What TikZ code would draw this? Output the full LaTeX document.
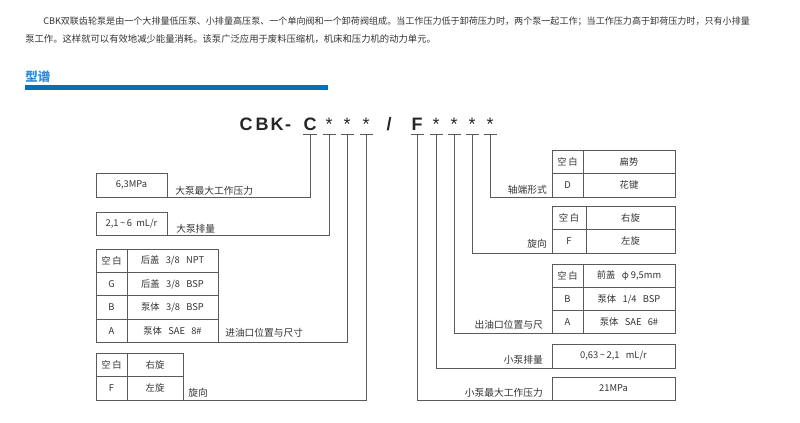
\documentclass[tikz,border=0pt]{standalone}
\usepackage{fontspec}
\newfontfamily\cjk{Noto Sans CJK SC}
\newfontfamily\codefont{Liberation Sans}
\usetikzlibrary{calc}
\usetikzlibrary{positioning}

\definecolor{wirecol}{HTML}{5A5A5A}
\definecolor{txtcol}{HTML}{333333}
\definecolor{headblue}{HTML}{2E8FE0}
\definecolor{barblue}{HTML}{0070BA}

\tikzset{
    wire/.style={draw=wirecol, line width=0.7pt},
    tblcell/.style={rectangle, draw=wirecol, line width=0.7pt, inner sep=0pt, outer sep=0pt, minimum height=23.4*0.75pt, text centered, text=txtcol, font=\cjk\fontsize{7pt}{8pt}\selectfont},
    keycell/.style={tblcell, minimum width=31*0.75pt},
    valcell/.style={tblcell, minimum width=92*0.75pt},
    tagtext/.style={inner sep=0pt, text=txtcol, font=\cjk\fontsize{7.3pt}{8pt}\selectfont},
    codechar/.style={inner sep=0pt, anchor=base, text=black!85, font=\codefont\bfseries\fontsize{13.5pt}{14pt}\selectfont},
    starchar/.style={codechar, font=\codefont\mdseries\fontsize{13.5pt}{14pt}\selectfont},
}

\begin{document}
\begin{tikzpicture}[x=0.75pt, y=-0.75pt]
    \useasboundingbox (0,0) rectangle (800,422);

    % intro text and title
    \node[anchor=base west, inner sep=0pt, text=txtcol, font=\cjk\fontsize{6.8pt}{8pt}\selectfont] (intro1) at (43,24.5) {CBK双联齿轮泵是由一个大排量低压泵、小排量高压泵、一个单向阀和一个卸荷阀组成。当工作压力低于卸荷压力时，两个泵一起工作；当工作压力高于卸荷压力时，只有小排量};
    \node[anchor=base west, inner sep=0pt, text=txtcol, font=\cjk\fontsize{7pt}{8pt}\selectfont] (intro2) at (25,42.5) {泵工作。这样就可以有效地减少能量消耗。该泵广泛应用于废料压缩机，机床和压力机的动力单元。};
    \node[anchor=base west, inner sep=0pt, text=headblue, font=\cjk\bfseries\fontsize{9.4pt}{10pt}\selectfont] (title) at (25,81) {型谱};
    \fill[barblue] (25,85) rectangle (328,90);

    % model code
    \node[codechar] (cb1) at (246,130) {C};
    \node[codechar] (cb2) at (262,130) {B};
    \node[codechar] (cb3) at (277,130) {K};
    \node[codechar] (cb4) at (288,130) {-};
    \node[codechar] (c1) at (310,130) {C};
    \node[starchar] (c2) at (329,130) {*};
    \node[starchar] (c3) at (347,130) {*};
    \node[starchar] (c4) at (366,130) {*};
    \node[codechar] (slash) at (389,130) {/};
    \node[codechar] (f1) at (417,130) {F};
    \node[starchar] (f2) at (436,130) {*};
    \node[starchar] (f3) at (454,130) {*};
    \node[starchar] (f4) at (472,130) {*};
    \node[starchar] (f5) at (490,130) {*};

    % left side: large pump
    \node[tblcell, minimum width=71*0.75pt, minimum height=24*0.75pt, anchor=north west] (maxp) at (96,173) {6,3MPa};
    \node[tblcell, minimum width=71*0.75pt, minimum height=23*0.75pt, anchor=north west] (disp) at (96,212) {2,1\,\textasciitilde\,6\ \ mL/r};

    \node[keycell, anchor=north west] (in0k) at (96,249) {空\,白};
    \node[valcell, minimum width=91*0.75pt, right=0pt of in0k] (in0v) {后盖\ \ \ 3/8\ \ \ NPT};
    \node[keycell, below=0pt of in0k] (in1k) {G};
    \node[valcell, minimum width=91*0.75pt, below=0pt of in0v] (in1v) {后盖\ \ \ 3/8\ \ \ BSP};
    \node[keycell, below=0pt of in1k] (in2k) {B};
    \node[valcell, minimum width=91*0.75pt, below=0pt of in1v] (in2v) {泵体\ \ \ 3/8\ \ \ BSP};
    \node[keycell, below=0pt of in2k] (in3k) {A};
    \node[valcell, minimum width=91*0.75pt, below=0pt of in2v] (in3v) {泵体\ \ \ SAE\ \ \ 8\#};

    \node[keycell, minimum height=23.5*0.75pt, anchor=north west] (rl0k) at (96,353) {空\,白};
    \node[valcell, minimum height=23.5*0.75pt, minimum width=56*0.75pt, right=0pt of rl0k] (rl0v) {右旋};
    \node[keycell, minimum height=23.5*0.75pt, below=0pt of rl0k] (rl1k) {F};
    \node[valcell, minimum height=23.5*0.75pt, minimum width=56*0.75pt, below=0pt of rl0v] (rl1v) {左旋};

    \node[tagtext, anchor=base west] (lmaxp) at ($(maxp.south east)+(8,-3)$) {大泵最大工作压力};
    \node[tagtext, anchor=base west] (ldisp) at ($(disp.south east)+(9,-2.5)$) {大泵排量};
    \node[tagtext, anchor=base west] (lin) at ($(in3v.south east)+(7,-6)$) {进油口位置与尺寸};
    \node[tagtext, anchor=base west] (lrl) at ($(rl1v.south east)+(5,-4)$) {旋向};

    % right side: small pump
    \node[keycell, minimum height=23.5*0.75pt, anchor=north west] (sh0k) at (552,150) {空\,白};
    \node[valcell, minimum height=23.5*0.75pt, right=0pt of sh0k] (sh0v) {扁势};
    \node[keycell, minimum height=23.5*0.75pt, below=0pt of sh0k] (sh1k) {D};
    \node[valcell, minimum height=23.5*0.75pt, below=0pt of sh0v] (sh1v) {花键};

    \node[keycell, minimum height=23.5*0.75pt, minimum width=34*0.75pt, anchor=north west] (rr0k) at (552,206) {空\,白};
    \node[valcell, minimum height=23.5*0.75pt, minimum width=89*0.75pt, right=0pt of rr0k] (rr0v) {右旋};
    \node[keycell, minimum height=23.5*0.75pt, minimum width=34*0.75pt, below=0pt of rr0k] (rr1k) {F};
    \node[valcell, minimum height=23.5*0.75pt, minimum width=89*0.75pt, below=0pt of rr0v] (rr1v) {左旋};

    \node[keycell, minimum height=23.3*0.75pt, anchor=north west] (ou0k) at (552,264) {空\,白};
    \node[valcell, minimum height=23.3*0.75pt, right=0pt of ou0k] (ou0v) {前盖\ \ \ φ\ 9,5mm};
    \node[keycell, minimum height=23.3*0.75pt, below=0pt of ou0k] (ou1k) {B};
    \node[valcell, minimum height=23.3*0.75pt, below=0pt of ou0v] (ou1v) {泵体\ \ \ 1/4\ \ \ BSP};
    \node[keycell, minimum height=23.3*0.75pt, below=0pt of ou1k] (ou2k) {A};
    \node[valcell, minimum height=23.3*0.75pt, below=0pt of ou1v] (ou2v) {泵体\ \ \ SAE\ \ \ 6\#};

    \node[tblcell, minimum width=123*0.75pt, minimum height=24*0.75pt, anchor=north west] (sdisp) at (552,344) {0,63\,\textasciitilde\,2,1\ \ \ mL/r};
    \node[tblcell, minimum width=123*0.75pt, minimum height=23*0.75pt, anchor=north west] (sp) at (552,377) {21MPa};

    \node[tagtext, anchor=base east] (lsh) at ($(sh1k.south west)+(-5,-4)$) {轴端形式};
    \node[tagtext, anchor=base east] (lrr) at ($(rr1k.south west)+(-5,-6)$) {旋向};
    \node[tagtext, anchor=base east] (lou) at ($(ou2k.south west)+(-9,-5)$) {出油口位置与尺};
    \node[tagtext, anchor=base east] (lsd) at ($(sdisp.south west)+(-9,-5)$) {小泵排量};
    \node[tagtext, anchor=base east] (lsp) at ($(sp.south west)+(-9,-4)$) {小泵最大工作压力};

    % underlines
    \draw[wire] ($(c1.base)+(-7,4)$) -- ($(c1.base)+(7,4)$);
    \draw[wire] ($(c2.base)+(-6.5,4)$) -- ($(c2.base)+(6.5,4)$);
    \draw[wire] ($(c3.base)+(-6.5,4)$) -- ($(c3.base)+(6.5,4)$);
    \draw[wire] ($(c4.base)+(-6.5,4)$) -- ($(c4.base)+(6.5,4)$);
    \draw[wire] ($(f1.base)+(-6.5,4)$) -- ($(f1.base)+(6.5,4)$);
    \draw[wire] ($(f2.base)+(-6.5,4)$) -- ($(f2.base)+(6.5,4)$);
    \draw[wire] ($(f3.base)+(-6.5,4)$) -- ($(f3.base)+(6.5,4)$);
    \draw[wire] ($(f4.base)+(-6.5,4)$) -- ($(f4.base)+(6.5,4)$);
    \draw[wire] ($(f5.base)+(-6.5,4)$) -- ($(f5.base)+(6.5,4)$);

    % leaders
    \draw[wire] ($(c1.base)+(0,4)$) |- (maxp.south east);
    \draw[wire] ($(c2.base)+(0,4)$) |- (disp.south east);
    \draw[wire] ($(c3.base)+(0,4)$) |- (in3v.south east);
    \draw[wire] ($(c4.base)+(0,4)$) |- (rl1v.south east);

    \draw[wire] ($(f1.base)+(0,4)$) |- (sp.south west);
    \draw[wire] ($(f2.base)+(0,4)$) |- (sdisp.south west);
    \draw[wire] ($(f3.base)+(0,4)$) |- (ou2k.south west);
    \draw[wire] ($(f4.base)+(0,4)$) |- (rr1k.south west);
    \draw[wire] ($(f5.base)+(0,4)$) |- (sh1k.south west);
\end{tikzpicture}
\end{document}
